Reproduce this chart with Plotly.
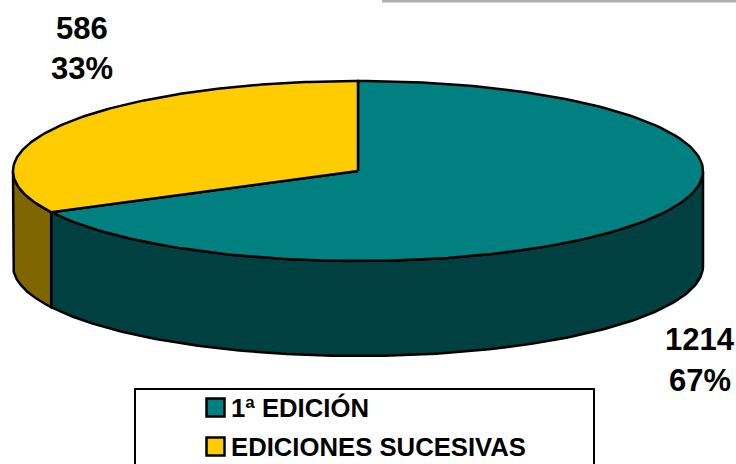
import numpy as np
import plotly.graph_objects as go

categories = ["1ª EDICIÓN", "EDICIONES SUCESIVAS"]
values = [1214, 586]
percent_labels = ["67%", "33%"]
top_colors = ["#008080", "#FFCC00"]
side_colors = ["#004040", "#806600"]

W, H = 736, 464
CX, CY, RX, RY, DEPTH = 358, 171, 345, 90, 95
FONT = "Liberation Sans"
total = sum(values)


def arc(a, b, n=160, drop=0.0):
    t = np.radians(np.linspace(a, b, n))
    return CX + RX * np.sin(t), CY - RY * np.cos(t) + drop


fig = go.Figure()
start = 0.0
bounds = []
for v in values:
    end = start + 360.0 * v / total
    bounds.append((start, end))
    start = end

# side walls (visible from 90 to 270 degrees clockwise from the top)
for (a, b), col in zip(bounds, side_colors):
    lo, hi = max(a, 90), min(b, 270)
    if lo < hi:
        x1, y1 = arc(lo, hi)
        x2, y2 = arc(hi, lo, drop=DEPTH)
        fig.add_trace(go.Scatter(x=np.r_[x1, x2, x1[0]], y=np.r_[y1, y2, y1[0]],
                                 mode="lines", fill="toself", fillcolor=col,
                                 line=dict(color="black", width=2.5), showlegend=False))

# top faces
for (a, b), col in zip(bounds, top_colors):
    x1, y1 = arc(a, b)
    fig.add_trace(go.Scatter(x=np.r_[CX, x1, CX], y=np.r_[CY, y1, CY],
                             mode="lines", fill="toself", fillcolor=col,
                             line=dict(color="black", width=2.5), showlegend=False))

# legend swatches
legend_ys = [407.5, 446.5]
fig.add_trace(go.Scatter(x=[215.5, 215.5], y=legend_ys, mode="markers",
                         marker=dict(symbol="square", size=18, color=top_colors,
                                     line=dict(color="black", width=2.5)),
                         showlegend=False))

annotations = []
for name, y in zip(categories, legend_ys):
    annotations.append(dict(x=231, y=y, text=f"<b>{name}</b>", xanchor="left", yanchor="middle",
                            showarrow=False, xshift=-2,
                            font=dict(family=FONT, size=25.7, color="black")))
label_pos = [(700, 339, 380), (82, 28, 68)]
for v, p, (x, y1, y2) in zip(values, percent_labels, label_pos):
    for txt, y in ((str(v), y1), (p, y2)):
        annotations.append(dict(x=x, y=y, text=f"<b>{txt}</b>", xanchor="center", yanchor="middle",
                                showarrow=False, font=dict(family=FONT, size=31, color="black")))

shapes = [
    dict(type="rect", x0=135, x1=594, y0=389, y1=480, line=dict(color="black", width=2),
         fillcolor="white", layer="below"),
    dict(type="rect", x0=382, x1=736, y0=0, y1=2.5, line=dict(width=0),
         fillcolor="#B0B0B0", layer="below"),
]

fig.update_layout(
    width=W, height=H, margin=dict(l=0, r=0, t=0, b=0),
    paper_bgcolor="white", plot_bgcolor="white", hovermode=False,
    xaxis=dict(range=[0, W], visible=False, fixedrange=True),
    yaxis=dict(range=[H, 0], visible=False, fixedrange=True),
    annotations=annotations, shapes=shapes, showlegend=False,
)
fig.write_html("out.html", config={"displayModeBar": False},
               post_script="document.body.style.margin='0';document.body.style.overflow='hidden';")
